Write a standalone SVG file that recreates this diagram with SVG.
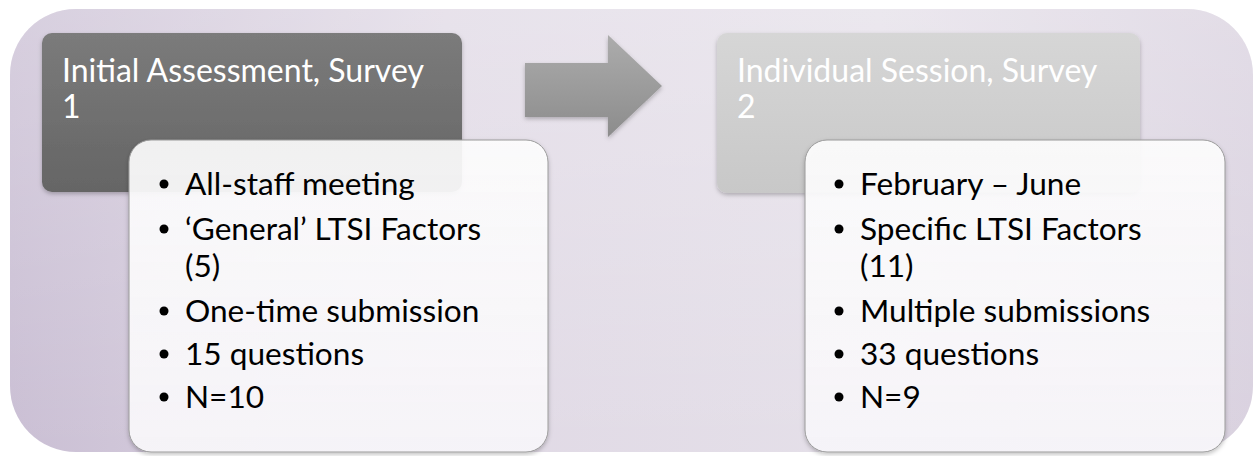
<svg xmlns="http://www.w3.org/2000/svg" width="1255" height="456" viewBox="0 0 1255 456">
<defs>
<style>
.title{font-family:Lato,"Liberation Sans",sans-serif;font-size:32px;fill:#ffffff}
.item{font-family:Lato,"Liberation Sans",sans-serif;font-size:31.6px;fill:#000000}
.card{fill:url(#cardGrad);stroke:#9a9a9a;stroke-width:1;filter:url(#shadow)}
</style>
<linearGradient id="bgGrad" x1="0" y1="0" x2="1" y2="0">
<stop offset="0" stop-color="#cabfd4"/>
<stop offset="0.35" stop-color="#e0d9e5"/>
<stop offset="0.7" stop-color="#e5e0e9"/>
<stop offset="1" stop-color="#d9d1df"/>
</linearGradient>
<linearGradient id="bgV" x1="0" y1="0" x2="0" y2="1">
<stop offset="0" stop-color="#ffffff" stop-opacity="0.25"/>
<stop offset="1" stop-color="#ffffff" stop-opacity="0"/>
</linearGradient>
<linearGradient id="darkGrad" x1="0" y1="0" x2="0" y2="1">
<stop offset="0" stop-color="#7b7b7b"/>
<stop offset="1" stop-color="#656565"/>
</linearGradient>
<linearGradient id="lightGrad" x1="0" y1="0" x2="0" y2="1">
<stop offset="0" stop-color="#d6d6d6"/>
<stop offset="1" stop-color="#c8c8c8"/>
</linearGradient>
<linearGradient id="arrowGrad" x1="0" y1="0" x2="0" y2="1">
<stop offset="0" stop-color="#acacac"/>
<stop offset="1" stop-color="#8c8c8c"/>
</linearGradient>
<linearGradient id="cardGrad" x1="0" y1="0" x2="0" y2="1">
<stop offset="0" stop-color="#ffffff" stop-opacity="0.9"/>
<stop offset="1" stop-color="#f7f5f9" stop-opacity="0.97"/>
</linearGradient>
<filter id="shadow" x="-10%" y="-10%" width="120%" height="125%">
<feDropShadow dx="0" dy="2" stdDeviation="2" flood-color="#000000" flood-opacity="0.25"/>
</filter>
</defs>
<rect x="0" y="0" width="1255" height="456" fill="#ffffff"/>
<rect x="10" y="9" width="1243" height="443" rx="66" fill="url(#bgGrad)"/>
<rect x="10" y="9" width="1243" height="443" rx="66" fill="url(#bgV)"/>

<g id="stage1">
<rect x="42" y="33" width="420" height="159" rx="10" fill="url(#darkGrad)" filter="url(#shadow)"/>
<text class="title" x="62" y="82">Initial Assessment, Survey</text>
<text class="title" x="62" y="118">1</text>
</g>

<g id="stage2">
<rect x="717" y="33" width="423" height="160" rx="10" fill="url(#lightGrad)" filter="url(#shadow)"/>
<text class="title" x="737" y="82">Individual Session, Survey</text>
<text class="title" x="737" y="118">2</text>
</g>

<g id="connectors">
<path d="M525,63 L608,63 L608,35 L662,86 L608,137 L608,117 L525,117 Z" fill="url(#arrowGrad)" filter="url(#shadow)"/>
</g>

<g id="details1">
<rect class="card" x="129" y="140" width="419" height="312" rx="22"/>
<g class="item">
<circle cx="164" cy="184" r="4.5"/>
<text x="185" y="195">All-staff meeting</text>
<circle cx="164" cy="229" r="4.5"/>
<text x="185" y="240">‘General’ LTSI Factors</text>
<text x="185" y="277">(5)</text>
<circle cx="164" cy="311" r="4.5"/>
<text x="185" y="322">One-time submission</text>
<circle cx="164" cy="354" r="4.5"/>
<text x="185" y="365">15 questions</text>
<circle cx="164" cy="397" r="4.5"/>
<text x="185" y="408">N=10</text>
</g>
</g>

<g id="details2">
<rect class="card" x="805" y="140" width="420" height="312" rx="22"/>
<g class="item">
<circle cx="839" cy="184" r="4.5"/>
<text x="860" y="195">February – June</text>
<circle cx="839" cy="229" r="4.5"/>
<text x="860" y="240">Specific LTSI Factors</text>
<text x="860" y="277">(11)</text>
<circle cx="839" cy="311" r="4.5"/>
<text x="860" y="322">Multiple submissions</text>
<circle cx="839" cy="354" r="4.5"/>
<text x="860" y="365">33 questions</text>
<circle cx="839" cy="397" r="4.5"/>
<text x="860" y="408">N=9</text>
</g>
</g>
</svg>
